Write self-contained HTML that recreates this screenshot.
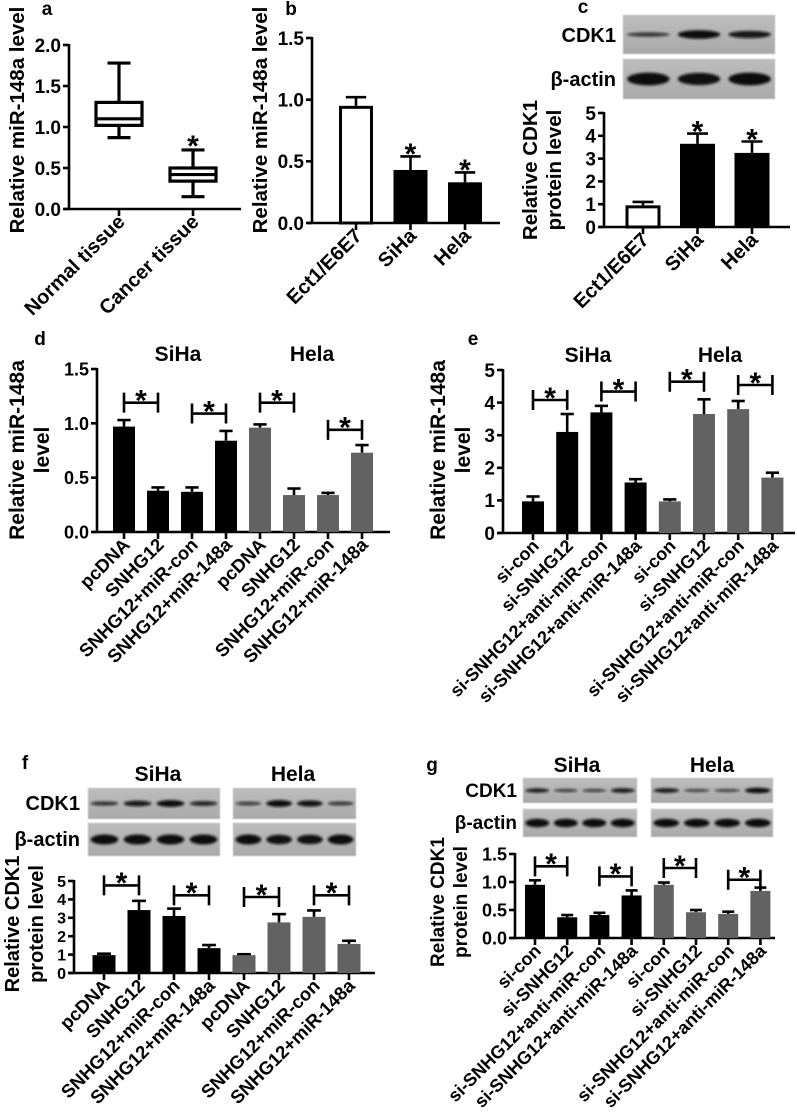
<!DOCTYPE html>
<html><head><meta charset="utf-8"><title>Figure</title>
<style>
html,body{margin:0;padding:0;background:#fff;}
svg{display:block;}
text{font-family:"Liberation Sans",Arial,sans-serif;font-weight:bold;fill:#000;}
</style></head>
<body>
<svg id="fig" width="797" height="1115" viewBox="0 0 797 1115" xmlns="http://www.w3.org/2000/svg">
<defs>
<filter id="blur" x="-20%" y="-80%" width="140%" height="260%"><feGaussianBlur stdDeviation="1.4"/></filter>
<linearGradient id="blotbg" x1="0" y1="0" x2="0" y2="1"><stop offset="0" stop-color="#bdbdbd"/><stop offset="1" stop-color="#a9a9a9"/></linearGradient>
</defs>
</svg>
<script>
// ---------- data ----------
const aCats=["Normal tissue","Cancer tissue"];
const aMin=[0.87,0.15], aQ1=[1.02,0.34], aMed=[1.10,0.42], aQ3=[1.30,0.50], aMax=[1.78,0.72];
const aTicks=[0,0.5,1.0,1.5,2.0];
const bCats=["Ect1/E6E7","SiHa","Hela"];
const bVals=[0.95,0.43,0.33], bErr=[1.02,0.54,0.41];
const bTicks=[0,0.5,1.0,1.5];
const cCats=["Ect1/E6E7","SiHa","Hela"];
const cVals=[0.95,3.65,3.25], cErr=[1.10,4.10,3.75];
const cTicks=[0,1,2,3,4,5];
const dCats=["pcDNA","SNHG12","SNHG12+miR-con","SNHG12+miR-148a","pcDNA","SNHG12","SNHG12+miR-con","SNHG12+miR-148a"];
const dVals=[0.97,0.38,0.37,0.84,0.96,0.34,0.34,0.73], dErr=[1.03,0.41,0.41,0.93,0.99,0.40,0.36,0.80];
const dTicks=[0,0.5,1.0,1.5];
const dBrackets=[[0,1,1.19],[2,3,1.09],[4,5,1.19],[6,7,0.94]];
const eCats=["si-con","si-SNHG12","si-SNHG12+anti-miR-con","si-SNHG12+anti-miR-148a","si-con","si-SNHG12","si-SNHG12+anti-miR-con","si-SNHG12+anti-miR-148a"];
const eVals=[0.97,3.10,3.70,1.55,0.97,3.65,3.80,1.70], eErr=[1.12,3.65,3.90,1.65,1.03,4.10,4.05,1.85];
const eTicks=[0,1,2,3,4,5];
const eBrackets=[[0,1,4.08],[2,3,4.34],[4,5,4.64],[6,7,4.54]];
const fCats=dCats;
const fVals=[0.97,3.42,3.10,1.35,0.97,2.75,3.05,1.58], fErr=[1.05,3.92,3.50,1.52,1.02,3.20,3.40,1.75];
const fTicks=[0,1,2,3,4,5];
const fBrackets=[[0,1,4.76],[2,3,4.22],[4,5,4.13],[6,7,4.22]];
const gCats=eCats;
const gVals=[0.95,0.37,0.41,0.76,0.95,0.46,0.43,0.84], gErr=[1.03,0.41,0.45,0.85,0.99,0.50,0.47,0.90];
const gTicks=[0,0.5,1.0,1.5];
const gBrackets=[[0,1,1.28],[2,3,1.10],[4,5,1.25],[6,7,1.04]];
const cCDK1=[0.5,1,0.85], cActin=[1,0.95,1];
const fCDK1S=[0.6,0.85,1,0.7], fCDK1H=[0.5,1,0.9,0.55], fActS=[1,1,1,1], fActH=[1,0.95,0.95,1];
const gCDK1S=[0.8,0.5,0.45,0.85], gCDK1H=[0.85,0.4,0.4,1], gActS=[1,1,1,1], gActH=[1,1,1,1];

// ---------- helpers ----------
const NS="http://www.w3.org/2000/svg";
const svg=document.getElementById('fig');
function mk(tag,attrs,parent){const e=document.createElementNS(NS,tag);for(const k in attrs)e.setAttribute(k,attrs[k]);(parent||svg).appendChild(e);return e;}
function T(x,y,s,size,anchor,rot){
  const e=mk('text',{x:x,y:y,'font-size':size,'text-anchor':anchor||'middle'});
  if(rot)e.setAttribute('transform','rotate('+rot+' '+x+' '+y+')');
  e.textContent=s;return e;}
function fmt(v,dec){return dec?v.toFixed(1):String(v);}

function makeAxes(p){
  const sc=v=>p.y0-v/p.vmax*(p.y0-p.yTop);
  const ax=mk('line',{x1:p.x,y1:p.y0,x2:p.x,y2:p.yTop-1,stroke:'#000','stroke-width':2.6});
  
  
  const xa=mk('line',{x1:p.x-5,y1:p.y0,x2:p.xEnd,y2:p.y0,stroke:'#000','stroke-width':2.6});
  
  
  p.ticks.forEach(v=>{
    const y=sc(v);
    const tl=mk('line',{x1:p.x-6,y1:y,x2:p.x,y2:y,stroke:'#000','stroke-width':2.6});
    
    
    const t=T(p.x-8,y+p.tfs*0.36,fmt(v,p.dec),p.tfs,'end');
    
    
  });
  return sc;
}
function cxOf(p,i){return p.first+i*p.step;}
function xTicksLabels(p,cats){
  cats.forEach((c,i)=>{
    const cx=cxOf(p,i);
    const tk=mk('line',{x1:cx,y1:p.y0,x2:cx,y2:p.y0+7,stroke:'#000','stroke-width':2.6});
    
    
    const t=T(cx+p.lx,p.y0+p.ly,c,p.lfs,'end',-45);
    
    
  });
}
function bars(p,sc,vals,errs,colors){
  vals.forEach((v,i)=>{
    const cx=cxOf(p,i), col=colors[i];
    const eb=mk('line',{x1:cx,y1:sc(v),x2:cx,y2:sc(errs[i]),stroke:'#000','stroke-width':2.6});
    
    
    const cap=mk('line',{x1:cx-p.bw*0.3,y1:sc(errs[i]),x2:cx+p.bw*0.3,y2:sc(errs[i]),stroke:'#000','stroke-width':2.6});
    
    
    let r;
    if(col==='white'){
      r=mk('rect',{x:cx-p.bw/2+1.5,y:sc(v)+1.5,width:p.bw-3,height:p.y0-sc(v)-1.5,fill:'#fff',stroke:'#000','stroke-width':3});
    } else {
      r=mk('rect',{x:cx-p.bw/2,y:sc(v),width:p.bw,height:p.y0-sc(v),fill:col});
    }
    
    
  });
}
function star(x,bottomY,size){
  const s=T(x,bottomY+size*0.36,'*',size,'middle');
  
  
}
function brackets(p,sc,br){
  br.forEach(b=>{
    const x1=cxOf(p,b[0]),x2=cxOf(p,b[1]),y=sc(b[2]);
    const g=mk('path',{d:'M'+x1+' '+(y-10)+'V'+(y+10)+'M'+x1+' '+y+'H'+x2+'M'+x2+' '+(y-10)+'V'+(y+10),stroke:'#000','stroke-width':2.6,fill:'none'});
    
    
    star((x1+x2)/2,y-3,30);
  });
}
function blot(id,x,y,w,h,lanes,ints,thick){
  const bg=mk('rect',{x:x,y:y,width:w,height:h,fill:'url(#blotbg)',stroke:'#d8d8d8','stroke-width':1});
  
  
  const lw=w/lanes;
  ints.forEach((v,i)=>{
    const cx=x+lw*(i+0.5);
    const e=mk('ellipse',{cx:cx,cy:y+h/2,rx:lw*0.42,ry:Math.max(1.5,h*thick*v),fill:'#0c0c0c',filter:'url(#blur)','fill-opacity':0.55+0.45*v});
    
    
  });
}
function label(x,y,s,size,anchor,name){
  const t=T(x,y,s,size,anchor||'middle');
  
  
  return t;
}
function ytitle(x,cy,s,size,name){
  const t=T(x,cy,s,size,'middle',-90);
  
  
}
const BLK='#000', GRY='#626262';
const col8=[BLK,BLK,BLK,BLK,GRY,GRY,GRY,GRY];

// ---------- panel a ----------
label(47,15,'a',19,'middle','panel-label-a');
const pa={id:'a',x:69,y0:209,yTop:45,vmax:2,ticks:aTicks,xEnd:241,first:119,step:74,bw:46,tfs:19,dec:true,lx:7,ly:14,lfs:20};
const sa=makeAxes(pa);
ytitle(24,120,'Relative miR-148a level',20.5,'a-y-axis-title');
aCats.forEach((c,i)=>{
  const cx=cxOf(pa,i),hw=pa.bw/2;
  const wl=mk('path',{d:'M'+cx+' '+sa(aMax[i])+'V'+sa(aQ3[i])+'M'+cx+' '+sa(aQ1[i])+'V'+sa(aMin[i])+'M'+(cx-hw*0.5)+' '+sa(aMax[i])+'H'+(cx+hw*0.5)+'M'+(cx-hw*0.5)+' '+sa(aMin[i])+'H'+(cx+hw*0.5),stroke:'#000','stroke-width':3.2,fill:'none'});
  
  
  const bx=mk('rect',{x:cx-hw,y:sa(aQ3[i]),width:pa.bw,height:sa(aQ1[i])-sa(aQ3[i]),fill:'#fff',stroke:'#000','stroke-width':3.2});
  
  
  const md=mk('line',{x1:cx-hw,y1:sa(aMed[i]),x2:cx+hw,y2:sa(aMed[i]),stroke:'#000','stroke-width':3.2});
  
  
});
star(cxOf(pa,1),sa(aMax[1])-5,30);
xTicksLabels(pa,aCats);

// ---------- panel b ----------
label(291,15,'b',19,'middle','panel-label-b');
const pb={id:'b',x:312,y0:223,yTop:38,vmax:1.5,ticks:bTicks,xEnd:500,first:356,step:54.5,bw:34,tfs:19,dec:true,lx:7,ly:14,lfs:20};
const sb=makeAxes(pb);
ytitle(267,120,'Relative miR-148a level',20.5,'b-y-axis-title');
bars(pb,sb,bVals,bErr,['white',BLK,BLK]);
[1,2].forEach(i=>star(cxOf(pb,i),sb(bErr[i])-3,30));
xTicksLabels(pb,bCats);

// ---------- panel c ----------
label(583,13,'c',19,'middle','panel-label-c');
label(616,42,'CDK1',20,'end','c-cdk1-label');
label(616,86,'β-actin',20,'end','c-actin-label');
blot('c-cdk1-blot',623,15,152,39,3,cCDK1,0.11);
blot('c-actin-blot',623,59,152,40,3,cActin,0.16);
const pc={id:'c',x:604,y0:227,yTop:113,vmax:5,ticks:cTicks,xEnd:790,first:643,step:54.5,bw:35,tfs:19,dec:false,lx:7,ly:14,lfs:20};
const scc=makeAxes(pc);
ytitle(537,170,'Relative CDK1',20.5,'c-y-axis-title-line1');
ytitle(561,170,'protein level',20.5,'c-y-axis-title-line2');
bars(pc,scc,cVals,cErr,['white',BLK,BLK]);
[1,2].forEach(i=>star(cxOf(pc,i),scc(cErr[i])-3,30));
xTicksLabels(pc,cCats);

// ---------- panel d ----------
label(40,345,'d',19,'middle','panel-label-d');
label(178,361,'SiHa',21,'middle','d-group-siha');
label(312,361,'Hela',21,'middle','d-group-hela');
const pd={id:'d',x:97,y0:532,yTop:369,vmax:1.5,ticks:dTicks,xEnd:390,first:124,step:34,bw:22,tfs:18,dec:true,lx:7,ly:14,lfs:18.5};
const sd=makeAxes(pd);
ytitle(24,450,'Relative miR-148a',21,'d-y-axis-title-line1');
ytitle(49,450,'level',21,'d-y-axis-title-line2');
bars(pd,sd,dVals,dErr,col8);
brackets(pd,sd,dBrackets);
xTicksLabels(pd,dCats);

// ---------- panel e ----------
label(473,345,'e',19,'middle','panel-label-e');
label(588,362,'SiHa',21,'middle','e-group-siha');
label(720,362,'Hela',21,'middle','e-group-hela');
const pe={id:'e',x:503,y0:533,yTop:370,vmax:5,ticks:eTicks,xEnd:795,first:533,step:34.2,bw:22,tfs:19,dec:false,lx:7,ly:14,lfs:18};
const se=makeAxes(pe);
ytitle(445,450,'Relative miR-148a',21,'e-y-axis-title-line1');
ytitle(470,450,'level',21,'e-y-axis-title-line2');
bars(pe,se,eVals,eErr,col8);
brackets(pe,se,eBrackets);
xTicksLabels(pe,eCats);

// ---------- panel f ----------
label(25,769,'f',19,'middle','panel-label-f');
label(158,781,'SiHa',21,'middle','f-group-siha');
label(293,781,'Hela',21,'middle','f-group-hela');
label(80,810,'CDK1',20,'end','f-cdk1-label');
label(80,846,'β-actin',20,'end','f-actin-label');
blot('f-cdk1-siha-blot',88,788,132,31,4,fCDK1S,0.11);
blot('f-cdk1-hela-blot',233,788,123,31,4,fCDK1H,0.11);
blot('f-actin-siha-blot',88,823,132,33,4,fActS,0.15);
blot('f-actin-hela-blot',233,823,123,33,4,fActH,0.15);
const pf={id:'f',x:74,y0:973,yTop:881,vmax:5,ticks:fTicks,xEnd:375,first:104,step:35,bw:23,tfs:16,dec:false,lx:7,ly:14,lfs:18.5};
const sf=makeAxes(pf);
ytitle(19,924,'Relative CDK1',20,'f-y-axis-title-line1');
ytitle(43,924,'protein level',20,'f-y-axis-title-line2');
bars(pf,sf,fVals,fErr,col8);
brackets(pf,sf,fBrackets);
xTicksLabels(pf,fCats);

// ---------- panel g ----------
label(432,771,'g',19,'middle','panel-label-g');
label(577,772,'SiHa',21,'middle','g-group-siha');
label(712,772,'Hela',21,'middle','g-group-hela');
label(517,797,'CDK1',19,'end','g-cdk1-label');
label(517,829,'β-actin',19,'end','g-actin-label');
blot('g-cdk1-siha-blot',523,778,114,25,4,gCDK1S,0.11);
blot('g-cdk1-hela-blot',651,778,122,25,4,gCDK1H,0.11);
blot('g-actin-siha-blot',523,809,114,28,4,gActS,0.15);
blot('g-actin-hela-blot',651,809,122,28,4,gActH,0.15);
const pg={id:'g',x:515,y0:938,yTop:854,vmax:1.5,ticks:gTicks,xEnd:775,first:535,step:32.2,bw:20,tfs:18,dec:true,lx:7,ly:14,lfs:18};
const sg=makeAxes(pg);
ytitle(444,902,'Relative CDK1',19,'g-y-axis-title-line1');
ytitle(467,902,'protein level',19,'g-y-axis-title-line2');
bars(pg,sg,gVals,gErr,col8);
brackets(pg,sg,gBrackets);
xTicksLabels(pg,gCats);
</script>
</body></html>
